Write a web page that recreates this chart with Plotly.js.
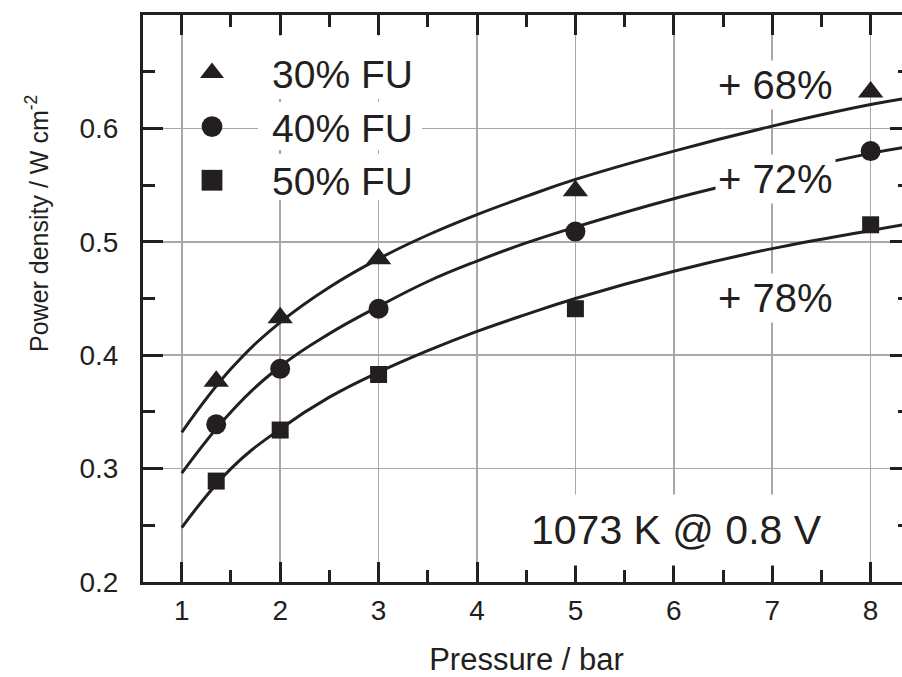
<!DOCTYPE html>
<html><head><meta charset="utf-8">
<script src="https://cdn.plot.ly/plotly-3.0.1.min.js"></script>
<style>html,body{margin:0;padding:0;overflow:hidden;background:#fff}#chart{width:910px;height:677px}</style>
</head><body><div id="chart"></div>
<script>
// measured points
const pressure = [1.35, 2, 3, 5, 8];
const fu30 = [0.377, 0.433, 0.485, 0.545, 0.632];
const fu40 = [0.339, 0.388, 0.441, 0.509, 0.580];
const fu50 = [0.289, 0.334, 0.383, 0.441, 0.515];
// fitted curves
const fitPressure = [1, 1.5, 2, 2.5, 3, 3.5, 4, 4.5, 5, 6, 7, 8, 8.4];
const fit30 = [0.332, 0.388, 0.429, 0.460, 0.485, 0.506, 0.524, 0.540, 0.555, 0.580, 0.602, 0.621, 0.627];
const fit40 = [0.296, 0.350, 0.390, 0.419, 0.443, 0.465, 0.483, 0.499, 0.513, 0.538, 0.559, 0.578, 0.584];
const fit50 = [0.248, 0.300, 0.335, 0.363, 0.385, 0.404, 0.421, 0.436, 0.450, 0.474, 0.494, 0.510, 0.516];
const seriesNames = ['30% FU', '40% FU', '50% FU'];
const gainLabels = ['+ 68%', '+ 72%', '+ 78%'];
const conditionLabel = '1073 K @ 0.8 V';
const xTickVals = [1, 2, 3, 4, 5, 6, 7, 8];
const yTickVals = [0.2, 0.3, 0.4, 0.5, 0.6, 0.7];

const INK = '#231f20';
const FONT = 'Liberation Sans, Arial, Helvetica, sans-serif';

const symbols = ['triangle-up', 'circle', 'square'];
const sizes = [22, 20, 17];
const points = [fu30, fu40, fu50];
const fits = [fit30, fit40, fit50];

const traces = [];
fits.forEach((f) => {
  traces.push({x: fitPressure, y: f, mode: 'lines', line: {color: INK, width: 3, shape: 'spline', smoothing: 1.2}, showlegend: false, hoverinfo: 'skip'});
});
points.forEach((p, i) => {
  traces.push({x: pressure, y: p, mode: 'markers', name: seriesNames[i],
    marker: {symbol: symbols[i], size: sizes[i], color: INK, line: {width: 0}}});
});

const L = 143, R = 910, T = 15, B = 582;
const px2paperX = (px) => (px - L) / (R - L);
const px2paperY = (py) => (B - py) / (B - T);

const axisCommon = {
  showline: true, linecolor: INK, linewidth: 3, mirror: 'ticks',
  ticks: 'inside', ticklen: 20, tickwidth: 3, tickcolor: INK,
  showgrid: true, gridcolor: '#a8a8a8', gridwidth: 1.5, zeroline: false,
  tickfont: {family: FONT, size: 28, color: INK}
};

const layout = {
  width: 910, height: 677,
  margin: {l: L, r: 0, t: T, b: 677 - B},
  paper_bgcolor: '#fff', plot_bgcolor: '#fff',
  showlegend: true,
  xaxis: Object.assign({}, axisCommon, {
    range: [0.606, 8.40], tickvals: xTickVals, ticktext: xTickVals.map(String),
    ticklabelstandoff: 1,
    minor: {dtick: 0.5, tick0: 0.5, ticks: 'inside', ticklen: 12, tickwidth: 3, tickcolor: INK, showgrid: false},
    title: {text: 'Pressure / bar', font: {family: FONT, size: 31, color: INK}, standoff: 29}
  }),
  yaxis: Object.assign({}, axisCommon, {
    range: [0.2, 0.7], tickvals: yTickVals, ticktext: yTickVals.map(v => v.toFixed(1)),
    ticklabelstandoff: 16,
    minor: {dtick: 0.05, tick0: 0.2, ticks: 'inside', ticklen: 12, tickwidth: 3, tickcolor: INK, showgrid: false}
  }),
  legend: {
    x: px2paperX(152), y: px2paperY(41), xanchor: 'left', yanchor: 'top',
    bgcolor: 'rgba(0,0,0,0)', borderwidth: 0, itemwidth: 110,
    font: {family: FONT, size: 39, color: INK}, tracegroupgap: 0
  },
  shapes: [
    {type: 'rect', xref: 'paper', yref: 'paper', x0: px2paperX(258), x1: px2paperX(422), y0: px2paperY(99), y1: px2paperY(36), fillcolor: '#fff', line: {width: 0}, layer: 'above'},
    {type: 'rect', xref: 'paper', yref: 'paper', x0: px2paperX(258), x1: px2paperX(422), y0: px2paperY(150), y1: px2paperY(102), fillcolor: '#fff', line: {width: 0}, layer: 'above'},
    {type: 'rect', xref: 'paper', yref: 'paper', x0: px2paperX(258), x1: px2paperX(422), y0: px2paperY(200), y1: px2paperY(154), fillcolor: '#fff', line: {width: 0}, layer: 'above'}
  ],
  annotations: [
    {text: gainLabels[0], x: 7.03, y: 0.638, xref: 'x', yref: 'y', showarrow: false, bgcolor: '#fff', borderpad: 2, font: {family: FONT, size: 40, color: INK}},
    {text: gainLabels[1], x: 7.03, y: 0.5553, xref: 'x', yref: 'y', showarrow: false, bgcolor: '#fff', borderpad: 2, font: {family: FONT, size: 40, color: INK}},
    {text: gainLabels[2], x: 7.03, y: 0.4503, xref: 'x', yref: 'y', showarrow: false, bgcolor: '#fff', borderpad: 2, font: {family: FONT, size: 40, color: INK}},
    {text: conditionLabel, x: 6.03, y: 0.2456, xref: 'x', yref: 'y', showarrow: false, bgcolor: '#fff', borderpad: 12, font: {family: FONT, size: 41, color: INK}},
    {text: 'Power density / W cm<sup>-2</sup>', x: px2paperX(37), y: px2paperY(224), xref: 'paper', yref: 'paper', xanchor: 'center', yanchor: 'middle', showarrow: false, textangle: -90, font: {family: FONT, size: 25, color: INK}}
  ]
};

Plotly.newPlot('chart', traces, layout, {staticPlot: true, displayModeBar: false}).then(() => {
  document.querySelectorAll('.legendpoints .scatterpts').forEach((p) => {
    const t = p.getAttribute('transform') || '';
    p.setAttribute('transform', t + ' scale(1.3)');
  });
});
</script>
</body></html>
